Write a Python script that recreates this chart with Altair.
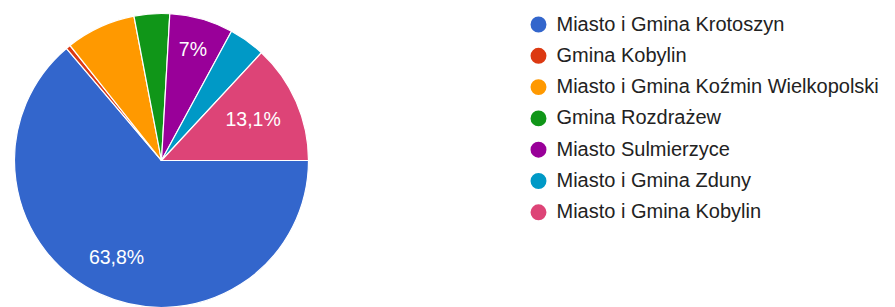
import math
import altair as alt
import pandas as pd

categories = [
    "Miasto i Gmina Krotoszyn",
    "Gmina Kobylin",
    "Miasto i Gmina Koźmin Wielkopolski",
    "Gmina Rozdrażew",
    "Miasto Sulmierzyce",
    "Miasto i Gmina Zduny",
    "Miasto i Gmina Kobylin",
]
values = [63.8, 0.5, 7.7, 3.9, 7.0, 4.0, 13.1]
labels = ["63,8%", "", "", "", "7%", "", "13,1%"]
colors = ["#3366cc", "#dc3912", "#ff9900", "#109618", "#990099", "#0099c6", "#dd4477"]

df = pd.DataFrame({
    "category": categories,
    "value": values,
    "label": labels,
    "idx": list(range(len(categories))),
})

theta_scale = alt.Scale(domain=[0, 100], range=[math.pi / 2, math.pi / 2 + 2 * math.pi])

base = alt.Chart(df)

arcs = base.mark_arc(outerRadius=147, stroke="white", strokeWidth=1.2).encode(
    theta=alt.Theta("value:Q", stack=True, scale=theta_scale),
    color=alt.Color(
        "category:N",
        scale=alt.Scale(domain=categories, range=colors),
        sort=categories,
        legend=alt.Legend(
            title=None,
            orient="none",
            legendX=520.5,
            legendY=6.5,
            symbolType="circle",
            symbolSize=254,
            symbolStrokeWidth=0,
            labelFont="Liberation Sans",
            labelFontSize=20,
            labelColor="#222222",
            labelOffset=8,
            labelLimit=400,
            rowPadding=11.3,
            padding=0,
        ),
    ),
    order=alt.Order("idx:Q"),
)

def label_layer(cat, r):
    return (
        base.transform_window(cum="sum(value)", sort=[alt.SortField("idx")])
        .transform_calculate(mid="datum.cum - datum.value / 2")
        .transform_filter(alt.datum.category == cat)
        .mark_text(radius=r, color="white", font="Liberation Sans", fontSize=19.5)
        .encode(
            theta=alt.Theta("mid:Q", stack=None, scale=theta_scale),
            text="label:N",
        )
    )

texts = [
    label_layer(categories[0], 107),
    label_layer(categories[4], 115),
    label_layer(categories[6], 100),
]

chart = alt.layer(arcs, *texts).properties(
    width=307, height=305, padding=0
).configure_view(stroke=None)

chart.save("out.html", embed_options={"renderer": "svg", "actions": False})
